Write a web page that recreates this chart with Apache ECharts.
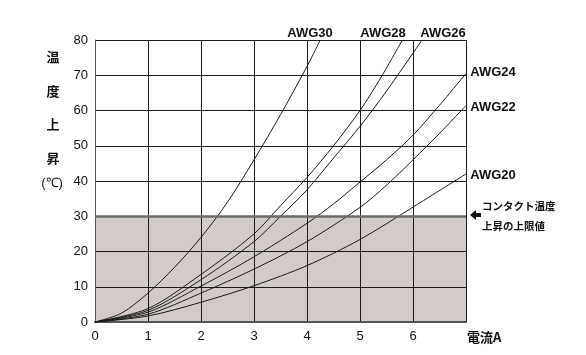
<!DOCTYPE html>
<html>
<head>
<meta charset="utf-8">
<script src="https://cdn.jsdelivr.net/npm/echarts@6/dist/echarts.min.js"></script>
<style>
  html, body { margin: 0; padding: 0; background: #fff; }
  #chart { width: 586px; height: 355px; }
</style>
</head>
<body>
<div id="chart"></div>
<script>
// 電流 [A] と温度上昇 [℃] の読み取り値
const awg30 = [[0, 0], [0.5, 2.5], [1, 8.2], [1.5, 15.5], [2, 24], [2.5, 34], [3, 46], [3.5, 58.8], [4, 72.5], [4.25, 80]]
const awg28 = [[0, 0], [1, 3.8], [2, 13.5], [3, 25], [3.5, 33], [4, 41], [4.5, 50], [5, 60], [5.4, 69.5], [5.8, 80]]
const awg26 = [[0, 0], [1, 3.3], [2, 12], [3, 22.8], [3.5, 30], [4, 37.5], [4.5, 46.5], [5, 55.5], [5.5, 65.5], [6.17, 80]]
const awg24 = [[0, 0], [1, 2.8], [2, 10.2], [3, 18.5], [4, 28], [4.5, 33.5], [5, 39.7], [5.5, 46], [6, 53], [6.5, 61.5], [7, 70.5]]
const awg22 = [[0, 0], [1, 2.2], [2, 8.2], [3, 15], [4, 22.8], [5, 32.5], [5.5, 38.8], [6, 46], [6.5, 53.5], [7, 61.4]]
const awg20 = [[0, 0], [1, 1.7], [2, 5.6], [3, 10.3], [4, 16], [5, 23.4], [6, 32.6], [7, 42]]

const seriesNames = ['AWG30', 'AWG28', 'AWG26', 'AWG24', 'AWG22', 'AWG20']
const seriesData = [awg30, awg28, awg26, awg24, awg22, awg20]
const xTicks = [0, 1, 2, 3, 4, 5, 6]
const yTicks = [0, 10, 20, 30, 40, 50, 60, 70, 80]
const limitTemp = 30

const chart = echarts.init(document.getElementById('chart'))

const lineColor = '#1a1a1a'
const labelFont = 'Liberation Sans, Arial, sans-serif'
const cjkFont = 'Noto Sans CJK JP, sans-serif'

// 0〜30℃ の帯だけ塗る
const bandColors = yTicks.slice(1).map((v) => (v <= limitTemp ? '#d3cbc8' : '#ffffff'))

const series = seriesData.map((data, i) => ({
  name: seriesNames[i],
  type: 'line',
  data,
  smooth: 0.3,
  symbol: 'none',
  silent: true,
  lineStyle: { color: lineColor, width: 1 },
  z: 3,
}))

series[0].markLine = {
  silent: true,
  symbol: 'none',
  label: { show: false },
  lineStyle: { color: '#6b6b6b', width: 2.5, type: 'solid' },
  data: [{ yAxis: limitTemp }],
}

const curveLabels = [
  { text: 'AWG30', x: 310, y: 33 },
  { text: 'AWG28', x: 383, y: 33 },
  { text: 'AWG26', x: 443, y: 33 },
  { text: 'AWG24', x: 493, y: 72 },
  { text: 'AWG22', x: 493, y: 107 },
  { text: 'AWG20', x: 493, y: 175 },
]

const graphic = curveLabels.map((l) => ({
  type: 'text',
  x: l.x,
  y: l.y,
  style: {
    text: l.text, fill: '#111', font: 'bold 13px ' + labelFont,
    align: 'center', verticalAlign: 'middle',
  },
}))

const yTitle = [
  { text: '温', y: 57 },
  { text: '度', y: 91 },
  { text: '上', y: 124 },
  { text: '昇', y: 158 },
]
yTitle.forEach((t) => {
  graphic.push({
    type: 'text', x: 53, y: t.y,
    style: { text: t.text, fill: '#111', font: 'bold 13px ' + cjkFont, align: 'center', verticalAlign: 'middle' },
  })
})
graphic.push({
  type: 'text', x: 52, y: 183,
  style: { text: '(℃)', fill: '#111', font: '13px ' + labelFont, align: 'center', verticalAlign: 'middle' },
})

graphic.push({
  type: 'text', x: 467, y: 337,
  style: { text: '電流A', fill: '#111', font: 'bold 13px ' + cjkFont, align: 'left', verticalAlign: 'middle' },
})

// 上限値の注記
graphic.push({
  type: 'polygon',
  shape: { points: [[470, 215], [476, 210], [476, 213], [481, 213], [481, 217], [476, 217], [476, 220]] },
  style: { fill: '#111' },
})
graphic.push({
  type: 'text', x: 482, y: 206,
  style: { text: 'コンタクト温度', fill: '#111', font: 'bold 10.5px ' + cjkFont, align: 'left', verticalAlign: 'middle' },
})
graphic.push({
  type: 'text', x: 482, y: 226,
  style: { text: '上昇の上限値', fill: '#111', font: 'bold 10.5px ' + cjkFont, align: 'left', verticalAlign: 'middle' },
})

chart.setOption({
  animation: false,
  grid: { left: 95, right: 120, top: 40, bottom: 33, containLabel: false },
  xAxis: {
    type: 'value',
    min: 0,
    max: 7,
    interval: 1,
    axisLine: { show: true, lineStyle: { color: '#555', width: 2 } },
    axisTick: { show: false },
    axisLabel: {
      color: '#111', fontSize: 13, fontFamily: labelFont, margin: 8,
      formatter: (v) => (xTicks.includes(v) ? String(v) : ''),
    },
    splitLine: { show: true, lineStyle: { color: lineColor, width: 1 } },
  },
  yAxis: {
    type: 'value',
    min: 0,
    max: 80,
    interval: 10,
    axisLine: { show: true, lineStyle: { color: '#555', width: 1 } },
    axisTick: { show: false },
    axisLabel: { color: '#111', fontSize: 13, fontFamily: labelFont, margin: 7 },
    splitLine: { show: true, lineStyle: { color: lineColor, width: 1 } },
    splitArea: { show: true, areaStyle: { color: bandColors } },
  },
  series,
  graphic,
})
</script>
</body>
</html>
